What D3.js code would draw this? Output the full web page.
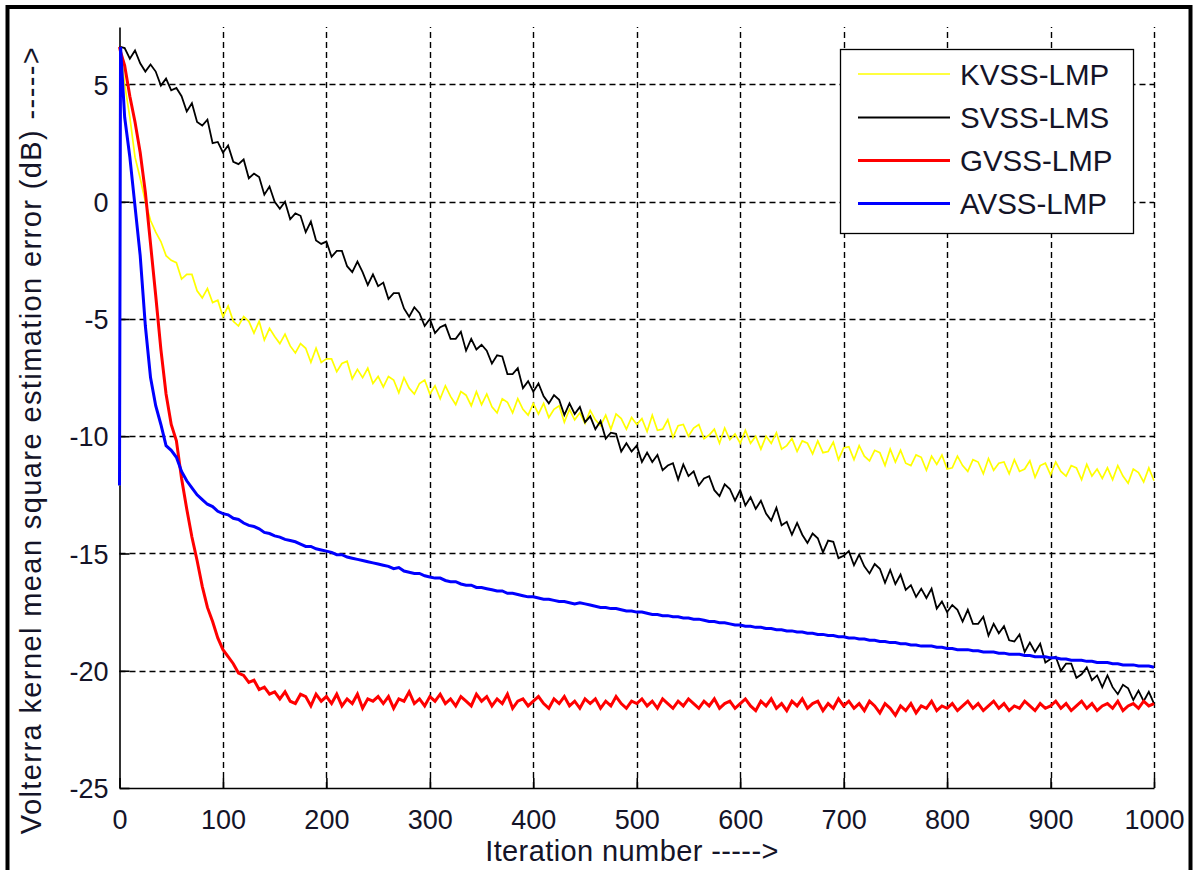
<!DOCTYPE html>
<html>
<head>
<meta charset="utf-8">
<script src="https://cdn.jsdelivr.net/npm/d3@7"></script>
<style>
  html, body { margin: 0; padding: 0; background: #ffffff; }
  svg { display: block; }
  text { font-family: "Liberation Sans", Arial, Helvetica, sans-serif; fill: #141428; }
</style>
</head>
<body>
<svg id="chart" width="1199" height="870"></svg>
<script>
// Iteration grid shared by all four learning curves
const iterations = [0, 1].concat(d3.range(5, 1001, 5));

const seriesNames = ["KVSS-LMP", "SVSS-LMS", "GVSS-LMP", "AVSS-LMP"];
const seriesColors = ["#ffff00", "#000000", "#ff0000", "#0000ff"];
const seriesWidths = [1.7, 1.8, 3, 3];

const xTicks = [0, 100, 200, 300, 400, 500, 600, 700, 800, 900, 1000];
const yTicks = [5, 0, -5, -10, -15, -20, -25];

// Mean square estimation error (dB) per iteration
const kvssLmp = [
  -12.1, 6.6,
  5.0, 3.6, 1.9, 1.0, 0.0, -0.8, -1.3, -1.7, -2.3, -2.5,
  -2.6, -3.3, -3.1, -3.1, -3.8, -4.1, -3.7, -4.3, -4.2, -4.9,
  -4.45, -5.1, -5.3, -4.9, -5.1, -5.6, -5.1, -5.9, -5.4, -5.75,
  -6.05, -5.65, -6.15, -6.45, -6.05, -6.25, -6.85, -6.25, -6.85, -6.7,
  -6.7, -7.25, -6.9, -6.8, -7.55, -7.15, -7.5, -7.1, -7.75, -7.45,
  -7.9, -7.45, -7.6, -8.15, -7.5, -7.95, -8.2, -7.75, -7.6, -8.2,
  -7.85, -8.4, -7.85, -8.3, -8.65, -8.1, -8.25, -8.7, -8.1, -8.65,
  -8.2, -8.75, -9.0, -8.4, -8.55, -9.0, -8.4, -8.85, -9.1, -8.6,
  -9.05, -8.6, -9.2, -8.85, -8.7, -9.4, -8.85, -9.3, -9.0, -9.45,
  -8.9, -9.3, -9.55, -9.1, -9.7, -9.05, -9.25, -9.7, -9.2, -9.5,
  -9.25, -9.8, -9.1, -9.75, -9.7, -9.3, -10.05, -9.55, -9.5, -10.0,
  -9.65, -9.5, -10.1, -9.95, -9.7, -10.3, -9.65, -10.15, -9.9, -10.3,
  -9.75, -10.3, -10.0, -10.55, -10.0, -10.3, -9.85, -10.55, -10.4, -10.1,
  -10.65, -10.2, -10.3, -10.75, -10.2, -10.7, -10.65, -10.25, -11.0, -10.5,
  -10.45, -11.0, -10.4, -10.85, -11.05, -10.6, -10.7, -11.25, -10.55, -11.1,
  -10.6, -11.15, -11.25, -10.8, -10.9, -11.45, -10.85, -11.2, -10.8, -11.4,
  -11.35, -10.85, -11.25, -11.5, -11.0, -11.1, -11.6, -10.95, -11.45, -11.15,
  -11.1, -11.6, -11.0, -11.5, -11.4, -11.05, -11.75, -11.25, -11.15, -11.65,
  -11.1, -11.5, -11.7, -11.25, -11.35, -11.85, -11.2, -11.7, -11.4, -11.8,
  -11.35, -11.85, -11.25, -11.7, -12.0, -11.4, -11.55, -11.95, -11.35, -11.9
];

const svssLms = [
  6.6, 6.6,
  6.55, 6.1, 6.45, 5.9, 5.55, 5.85, 5.55, 4.95, 5.25, 4.75,
  4.85, 4.5, 3.85, 4.2, 3.4, 3.25, 3.5, 2.5, 2.55, 2.1,
  2.4, 1.7, 1.6, 1.8, 1.0, 1.2, 1.05, 0.3, 0.65, 0.0,
  -0.3, 0.0, -0.75, -0.5, -0.6, -1.3, -0.85, -1.65, -1.8, -1.7,
  -2.35, -2.1, -2.1, -2.75, -3.0, -2.55, -3.0, -3.55, -3.1, -3.6,
  -3.45, -4.15, -3.9, -3.9, -4.55, -4.9, -4.5, -4.75, -5.3, -5.0,
  -5.6, -5.35, -5.25, -5.85, -5.85, -5.55, -6.35, -5.85, -6.3, -6.1,
  -6.35, -6.9, -6.55, -6.6, -7.35, -7.35, -7.1, -7.95, -7.65, -8.1,
  -7.75, -8.3, -8.6, -8.25, -8.45, -9.1, -8.6, -9.05, -8.75, -9.4,
  -9.15, -9.7, -9.35, -10.1, -9.85, -9.9, -10.65, -10.3, -10.65, -10.4,
  -11.1, -10.7, -11.1, -10.8, -11.45, -11.25, -11.15, -11.85, -11.2, -11.7,
  -11.5, -12.1, -11.8, -11.7, -12.3, -12.55, -12.05, -12.25, -12.75, -12.3,
  -12.95, -12.6, -13.1, -12.75, -13.3, -13.6, -13.05, -13.8, -13.65, -14.2,
  -13.7, -14.2, -14.55, -14.15, -14.35, -14.95, -14.45, -14.5, -15.2, -15.1,
  -14.9, -15.5, -15.05, -15.55, -15.85, -15.45, -15.65, -16.25, -15.7, -16.3,
  -15.9, -16.55, -16.35, -16.85, -16.5, -16.9, -16.5, -17.35, -17.05, -17.5,
  -17.2, -17.4, -17.9, -17.4, -18.0, -18.0, -17.7, -18.5, -18.0, -18.4,
  -18.1, -18.7, -18.75, -18.45, -19.2, -18.8, -19.2, -18.85, -19.65, -19.5,
  -19.4, -20.0, -19.7, -19.7, -20.3, -20.15, -19.85, -20.4, -20.2, -20.7,
  -20.2, -20.7, -21.0, -20.6, -20.75, -21.25, -20.85, -21.3, -20.9, -21.4
];

const gvssLmp = [
  6.6, 6.4,
  5.8, 4.5, 3.4, 2.1, 0.4, -1.8, -4.0, -6.3, -8.2, -9.5,
  -10.2, -11.8, -13.1, -14.3, -15.3, -16.4, -17.3, -17.9, -18.6, -19.1,
  -19.4, -19.7, -20.1, -20.2, -20.5, -20.4, -20.8, -20.7, -21.0, -20.9,
  -21.2, -20.9, -21.3, -21.4, -21.0, -21.1, -21.5, -21.0, -21.3, -21.1,
  -21.4, -21.0, -21.5, -21.2, -21.4, -21.0, -21.6, -21.2, -21.3, -21.1,
  -21.4, -21.1, -21.6, -21.2, -21.3, -20.9, -21.4, -21.2, -21.5, -21.1,
  -21.3, -21.0, -21.4, -21.2, -21.5, -21.1, -21.3, -21.5, -21.0, -21.3,
  -21.1, -21.5, -21.2, -21.4, -21.0, -21.6, -21.3, -21.2, -21.5, -21.3,
  -21.1, -21.4, -21.6, -21.2, -21.4, -21.1, -21.5, -21.3, -21.6, -21.2,
  -21.4, -21.2, -21.6, -21.3, -21.5, -21.1, -21.4, -21.6, -21.3, -21.4,
  -21.2, -21.5, -21.3, -21.6, -21.2, -21.4, -21.6, -21.3, -21.5, -21.2,
  -21.4, -21.6, -21.3, -21.5, -21.2, -21.6, -21.4, -21.3, -21.6, -21.4,
  -21.2, -21.5, -21.7, -21.3, -21.5, -21.2, -21.6, -21.4, -21.7, -21.3,
  -21.5, -21.2, -21.6, -21.4, -21.3, -21.7, -21.4, -21.6, -21.2, -21.5,
  -21.3, -21.6, -21.4, -21.7, -21.3, -21.5, -21.8, -21.4, -21.6, -21.9,
  -21.5, -21.7, -21.4, -21.8, -21.5, -21.6, -21.3, -21.7, -21.5, -21.6,
  -21.4, -21.7, -21.5, -21.3, -21.6, -21.4, -21.7, -21.5, -21.3, -21.6,
  -21.4, -21.7, -21.5, -21.6, -21.3, -21.5, -21.7, -21.4, -21.6, -21.5,
  -21.3, -21.6, -21.4, -21.7, -21.5, -21.3, -21.6, -21.4, -21.7, -21.5,
  -21.4, -21.6, -21.3, -21.7, -21.5, -21.4, -21.6, -21.3, -21.5, -21.4
];

const avssLmp = [
  -12.1, 6.6,
  3.6, 1.9, -0.2, -2.3, -5.3, -7.5, -8.7, -9.5, -10.4, -10.6,
  -10.9, -11.5, -11.9, -12.2, -12.5, -12.7, -12.9, -13.0, -13.2, -13.3,
  -13.35, -13.5, -13.55, -13.7, -13.8, -13.85, -13.95, -14.1, -14.15, -14.25,
  -14.3, -14.4, -14.45, -14.5, -14.6, -14.7, -14.7, -14.8, -14.85, -14.9,
  -14.95, -15.05, -15.05, -15.15, -15.2, -15.25, -15.3, -15.35, -15.4, -15.45,
  -15.5, -15.55, -15.65, -15.6, -15.75, -15.8, -15.85, -15.85, -15.95, -16.0,
  -16.05, -16.05, -16.15, -16.2, -16.2, -16.3, -16.35, -16.35, -16.45, -16.45,
  -16.5, -16.55, -16.6, -16.6, -16.7, -16.7, -16.75, -16.8, -16.85, -16.85,
  -16.9, -16.95, -16.95, -17.0, -17.05, -17.05, -17.1, -17.15, -17.1, -17.15,
  -17.2, -17.25, -17.3, -17.3, -17.35, -17.35, -17.4, -17.45, -17.45, -17.5,
  -17.5, -17.55, -17.6, -17.6, -17.65, -17.65, -17.7, -17.7, -17.75, -17.75,
  -17.8, -17.8, -17.85, -17.9, -17.9, -17.95, -17.95, -18.0, -18.05, -18.05,
  -18.1, -18.1, -18.15, -18.15, -18.2, -18.2, -18.25, -18.25, -18.3, -18.3,
  -18.35, -18.35, -18.4, -18.4, -18.45, -18.45, -18.5, -18.5, -18.55, -18.55,
  -18.6, -18.6, -18.65, -18.65, -18.7, -18.7, -18.75, -18.75, -18.8, -18.8,
  -18.85, -18.85, -18.9, -18.9, -18.95, -18.95, -18.95, -19.0, -19.0, -19.05,
  -19.05, -19.1, -19.1, -19.1, -19.15, -19.15, -19.2, -19.2, -19.2, -19.25,
  -19.25, -19.3, -19.3, -19.3, -19.35, -19.35, -19.4, -19.4, -19.4, -19.45,
  -19.45, -19.5, -19.5, -19.55, -19.55, -19.55, -19.6, -19.6, -19.65, -19.65,
  -19.65, -19.7, -19.7, -19.75, -19.75, -19.75, -19.8, -19.8, -19.8, -19.85
];

const seriesValues = [kvssLmp, svssLms, gvssLmp, avssLmp];

const svg = d3.select("#chart");
const W = 1199, H = 870;
const fontStack = "'Liberation Sans', Arial, Helvetica, sans-serif";

svg.append("rect").attr("x", 0).attr("y", 0).attr("width", W).attr("height", H).attr("fill", "#ffffff");
// Frame around the figure
svg.append("rect")
  .attr("x", 7.5).attr("y", 7).attr("width", 1183).attr("height", 880)
  .attr("fill", "none").attr("stroke", "#000").attr("stroke-width", 4);

const x = d3.scaleLinear().domain([0, 1000]).range([119.5, 1154]);
const y = d3.scaleLinear().domain([-25, 7.45]).range([788, 27]);

// Dashed grid
const grid = svg.append("g").attr("stroke", "#000").attr("stroke-width", 1.4).attr("stroke-dasharray", "6,4");
grid.selectAll("line.v").data(xTicks.slice(1)).join("line")
  .attr("x1", d => Math.round(x(d)) + 0.5).attr("x2", d => Math.round(x(d)) + 0.5)
  .attr("y1", y(-25)).attr("y2", y.range()[1]);
grid.selectAll("line.h").data(yTicks.slice(0, -1)).join("line")
  .attr("y1", d => Math.round(y(d)) + 0.5).attr("y2", d => Math.round(y(d)) + 0.5)
  .attr("x1", x(0)).attr("x2", x(1000));

// Axes with inward ticks
const fontSize = 27;
const plainNumber = d => String(d);
const xAxis = svg.append("g").attr("transform", `translate(0,${y(-25)})`)
  .call(d3.axisBottom(x).tickValues(xTicks).tickFormat(plainNumber).tickSizeInner(-10).tickSizeOuter(0).tickPadding(22));
const yAxis = svg.append("g").attr("transform", `translate(${x(0)},0)`)
  .call(d3.axisLeft(y).tickValues(yTicks).tickFormat(plainNumber).tickSizeInner(-10).tickSizeOuter(0).tickPadding(11));
[xAxis, yAxis].forEach(g => {
  g.select(".domain").attr("stroke", "#000").attr("stroke-width", 1.6);
  g.selectAll(".tick line").attr("stroke", "#000").attr("stroke-width", 1.6);
  g.selectAll(".tick text").attr("font-size", fontSize).attr("fill", "#141428")
    .style("font-family", fontStack);
});
xAxis.selectAll(".tick text").attr("dy", "0.71em");
yAxis.selectAll(".tick text").attr("dy", "0.36em");

// Learning curves
const line = d3.line().x((d, i) => x(iterations[i])).y(d => y(d));
const curves = svg.append("g");
seriesValues.forEach((vals, k) => {
  curves.append("path")
    .datum(vals)
    .attr("fill", "none")
    .attr("stroke", seriesColors[k])
    .attr("stroke-width", seriesWidths[k])
    .attr("stroke-linejoin", "miter")
    .attr("d", line);
});

// Legend
const legend = svg.append("g");
legend.append("rect")
  .attr("x", 840.5).attr("y", 49.5).attr("width", 293).attr("height", 184)
  .attr("fill", "#ffffff").attr("stroke", "#000").attr("stroke-width", 1.3);
const rowY = [74, 117.5, 160.5, 203.5];
seriesNames.forEach((name, k) => {
  legend.append("line")
    .attr("x1", 858).attr("x2", 950)
    .attr("y1", rowY[k]).attr("y2", rowY[k])
    .attr("stroke", seriesColors[k]).attr("stroke-width", seriesWidths[k]);
  legend.append("text")
    .attr("x", 960).attr("y", rowY[k]).attr("dy", "0.36em")
    .attr("font-size", 29.5)
    .text(name);
});

// Axis titles
svg.append("text")
  .attr("x", 632).attr("y", 861)
  .attr("text-anchor", "middle")
  .attr("font-size", 29)
  .attr("letter-spacing", 0.4)
  .text("Iteration number ----->");
svg.append("text")
  .attr("transform", "translate(41,440) rotate(-90)")
  .attr("text-anchor", "middle")
  .attr("font-size", 29)
  .attr("letter-spacing", 1.4)
  .text("Volterra kernel mean square estimation error (dB) ----->");
</script>
</body>
</html>
